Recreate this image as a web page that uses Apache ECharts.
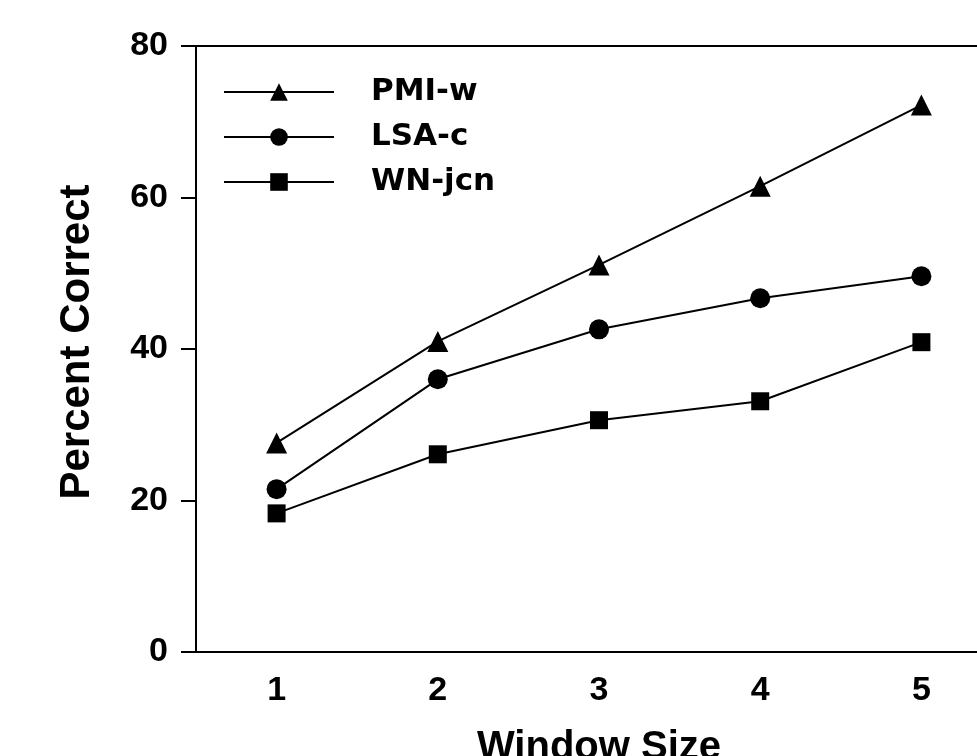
<!DOCTYPE html>
<html>
<head>
<meta charset="utf-8">
<script src="https://cdn.jsdelivr.net/npm/echarts@6/dist/echarts.min.js"></script>
<style>
html,body{margin:0;padding:0;background:#fff;}
#chart{width:977px;height:756px;}
</style>
</head>
<body>
<div id="chart"></div>
<script>
const categories = ['1', '2', '3', '4', '5'];
const pmiW = [27.6, 41.0, 51.1, 61.5, 72.2];
const lsaC = [21.5, 36.0, 42.6, 46.7, 49.6];
const wnJcn = [18.3, 26.1, 30.6, 33.1, 40.9];
const yTicks = [0, 20, 40, 60, 80];

const chart = echarts.init(document.getElementById('chart'));
const font = '"Liberation Sans", Arial, sans-serif';
function mkSeries(name, data, symbol, size) {
  return {
    name: name, type: 'line', data: data,
    symbol: symbol, symbolSize: size,
    lineStyle: { color: '#000', width: 2 },
    itemStyle: { color: '#000' },
    emphasis: { disabled: true },
    animation: false
  };
}
chart.setOption({
  backgroundColor: '#fff',
  animation: false,
  grid: {
    left: 196, top: 46, width: 806, height: 606,
    containLabel: false, outerBoundsMode: 'none',
    show: true, borderColor: '#000', borderWidth: 2
  },
  legend: {
    orient: 'vertical', left: 223, top: 76, padding: 0,
    itemWidth: 110, itemHeight: 22, itemGap: 13,
    textStyle: { fontFamily: '"DejaVu Sans", sans-serif', fontWeight: 'bold', fontSize: 31, color: '#000', lineHeight: 32, padding: [0, 0, 0, 32] },
    lineStyle: { color: '#000', width: 2 },
    itemStyle: { color: '#000' },
    data: ['PMI-w', 'LSA-c', 'WN-jcn']
  },
  xAxis: {
    type: 'category', data: categories, boundaryGap: true,
    name: 'Window Size', nameLocation: 'middle', nameGap: 76,
    nameTextStyle: { fontFamily: font, fontWeight: 'bold', fontSize: 40, color: '#000' },
    axisLine: { lineStyle: { color: '#000', width: 2 } },
    axisTick: { alignWithLabel: true, length: 14, lineStyle: { color: '#000', width: 2 } },
    axisLabel: { margin: 22, fontFamily: font, fontWeight: 'bold', fontSize: 34, color: '#000' },
    splitLine: { show: false }
  },
  yAxis: {
    type: 'value', min: yTicks[0], max: yTicks[yTicks.length - 1], interval: 20,
    name: 'Percent Correct', nameLocation: 'middle', nameGap: 98,
    nameTextStyle: { fontFamily: font, fontWeight: 'bold', fontSize: 42, color: '#000', padding: [0, 0, 0, 14] },
    axisLine: { show: true, lineStyle: { color: '#000', width: 2 } },
    axisTick: { show: true, length: 15, lineStyle: { color: '#000', width: 2 } },
    axisLabel: { margin: 28, fontFamily: font, fontWeight: 'bold', fontSize: 34, color: '#000' },
    splitLine: { show: false }
  },
  series: [
    mkSeries('PMI-w', pmiW, 'triangle', 21),
    mkSeries('LSA-c', lsaC, 'circle', 20),
    mkSeries('WN-jcn', wnJcn, 'rect', 18)
  ]
});
</script>
</body>
</html>
